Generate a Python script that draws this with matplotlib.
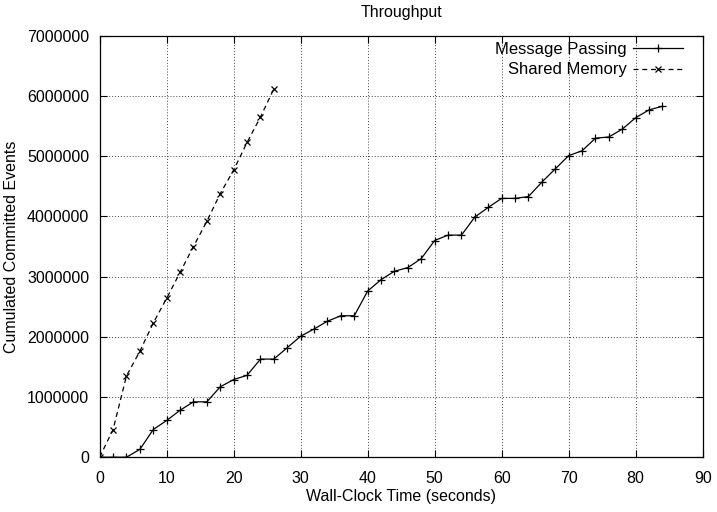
import numpy as np
import matplotlib
matplotlib.use('Agg')
import matplotlib.pyplot as plt

plt.rcParams['font.family'] = ['Liberation Sans', 'DejaVu Sans']

# Message Passing (time in s, cumulated committed events)
mp_time = list(range(0, 86, 2))
mp_events = [0, 0, 0, 130000, 460000, 610000, 780000, 920000, 920000, 1170000,
             1290000, 1360000, 1630000, 1630000, 1820000, 2010000, 2130000, 2260000,
             2350000, 2350000, 2760000, 2950000, 3090000, 3150000, 3300000, 3600000,
             3690000, 3690000, 3990000, 4150000, 4300000, 4300000, 4330000, 4570000,
             4790000, 5010000, 5090000, 5300000, 5320000, 5450000, 5640000, 5770000,
             5830000]

# Shared Memory
sm_time = list(range(0, 28, 2))
sm_events = [0, 460000, 1350000, 1760000, 2230000, 2640000, 3070000, 3500000,
             3920000, 4380000, 4770000, 5230000, 5650000, 6120000]

fig = plt.figure(figsize=(7.17, 5.12), dpi=100)
ax = fig.add_axes([0.139, 0.107, 0.841, 0.823])

ax.plot(mp_time, mp_events, color='black', lw=0.9, marker='+', ms=5.5, mew=0.9,
        label='Message Passing')
ax.plot(sm_time, sm_events, color='black', lw=0.9, ls=(0, (4, 3)), marker='x', ms=4.5, mew=0.9,
        label='Shared Memory')

ax.set_xlim(0, 90)
ax.set_ylim(0, 7000000)
ax.set_xticks(np.arange(0, 91, 10))
ax.set_yticks(np.arange(0, 7000001, 1000000))
ax.set_yticklabels([str(v) for v in range(0, 7000001, 1000000)])
ax.tick_params(direction='in', top=True, right=True, length=5, labelsize=11.5, width=0.8)
ax.tick_params(axis='x', pad=10)
ax.tick_params(axis='y', pad=7.5)
ax.grid(True, color='#444444', ls=(0, (1, 2)), lw=0.7)
for s in ax.spines.values():
    s.set_linewidth(0.9)

ax.set_xlabel('Wall-Clock Time (seconds)', fontsize=11.5, labelpad=2)
ax.set_ylabel('Cumulated Committed Events', fontsize=11.5, labelpad=6)
ax.set_title('Throughput', fontsize=11.5, pad=13.5)

leg = ax.legend(loc='upper right', bbox_to_anchor=(0.99, 1.017), frameon=False,
                markerfirst=False, fontsize=12, handlelength=3.0, borderaxespad=0.5,
                borderpad=0.3, labelspacing=0.32, handletextpad=0.4)
for t in leg.get_texts():
    t.set_ha('right')

fig.savefig('out.png', dpi=100)
